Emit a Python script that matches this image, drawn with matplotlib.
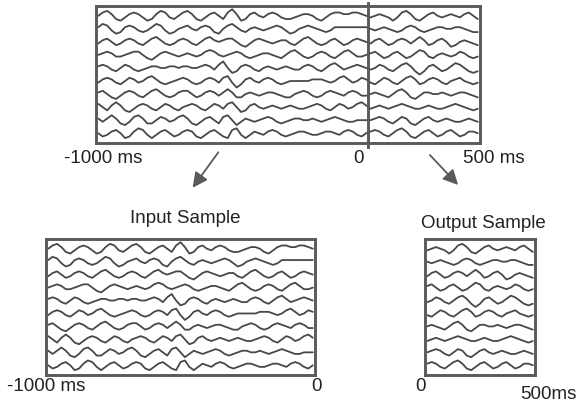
import matplotlib
matplotlib.use("Agg")
import matplotlib.pyplot as plt
import numpy as np

plt.rcParams["font.family"] = ["Liberation Sans", "DejaVu Sans"]

# EEG-like traces, split at stimulus onset (0 ms)
# pre: -1000 ms .. 0 (input sample), post: 0 .. 500 ms (output sample)
pre = [
    [0, 2, 3, 1, -2, -3, -1, 1, 2, 1, -1, -3, -2, 1, 3, 2, -1, -2, 0, 2,
     3, 1, -2, -3, -1, 1, 2, 0, -2, 2, 4, 1, -3, -2, 1, 2, 0, -1, 1, 2,
     1, -1, -2, -2, -1, 0, 1, 1, 0, -2, -3, -1, 1, 2, 2, 1, 1, 2, 2, 1, 0],
    [1, 3, 2, -1, -3, -2, 1, 2, 1, -1, -2, -1, 1, 3, 2, -1, -3, -2, 0, 1,
     2, 0, -1, 1, 2, 1, -2, -3, 0, 2, 3, 1, -1, -2, 0, 1, 0, -1, 0, 1,
     2, 1, -1, -3, -2, 0, 1, 2, 1, 0, -1, -2, -1, 1, 1, 1, 1, 1, 1, 1, 1],
    [-1, 1, 2, 0, -2, -1, 1, 2, 1, -1, -2, 0, 2, 3, 1, -1, -2, -1, 1, 2,
     1, -1, -2, 0, 2, 3, 1, 0, 1, 2, 2, 0, -2, -3, -1, 1, 2, 1, 0, -1,
     0, 1, 1, -1, -2, 0, 2, 3, 1, -1, -2, -1, 1, 2, 0, -2, -1, 1, 2, 1, 0],
    [0, 1, 2, 1, -1, -1, 0, 1, 2, 2, 0, -2, -3, -1, 1, 2, 1, 0, -1, 0,
     1, 0, -1, 0, 2, 3, 2, 0, -1, 0, 1, 2, 1, -1, -2, -1, 0, 1, 1, 0,
     -1, -2, 0, 2, 3, 1, -1, -2, -1, 1, 2, 1, -1, -2, 0, 2, 3, 1, -1, -1, 0],
    [1, 2, 1, -1, -2, 0, 2, 1, -1, -2, -1, 0, 1, 1, 0, 0, 1, 1, 0, 1,
     1, 0, 0, 1, 2, 1, -1, 2, 4, 0, -3, -2, 1, 2, 1, -1, -2, 0, 1, 0,
     -1, 0, 1, 0, -1, -1, 1, 2, 1, -1, -2, 0, 2, 3, 1, -1, 0, 1, 2, 1, 0],
    [-1, 1, 2, 1, -1, -2, 0, 2, 1, -1, 0, 2, 3, 1, -1, -2, -1, 0, 1, 2,
     1, -1, -2, -1, 1, 2, 1, -1, 2, 3, -1, -4, -2, 1, 2, 0, -1, 1, 2, 1,
     -1, -2, -1, 0, 0, 0, 0, 0, 1, 1, 1, 0, -1, 0, 2, 3, 1, -1, 0, 2, 1],
    [1, 2, 0, -2, -3, -1, 1, 2, 1, -1, -2, 0, 2, 3, 1, -1, -2, -1, 1, 2,
     2, 0, -2, -1, 1, 2, 1, -1, 1, 3, 1, -2, -2, 0, 1, 0, -1, 0, 1, 1,
     0, -1, -2, -2, 0, 1, 2, 1, -1, -2, -1, 1, 2, 1, 0, -1, 1, 2, 1, -1, -1],
    [2, 0, -2, 1, 3, 1, -2, -3, -1, 1, 2, 1, -1, -2, 0, 2, 1, -1, -2, 0,
     1, 2, 1, -1, -2, 0, 2, 1, -1, 2, 3, 0, -3, -2, 1, 2, 0, -1, 0, 1,
     0, -1, 0, 1, 0, -1, -1, 0, 1, 2, 1, -1, -2, 0, 2, 1, -1, 0, 2, 3, 1],
    [1, -1, 1, 3, 1, -2, -3, -1, 2, 3, 1, -2, -2, 0, 2, 1, -1, 0, 2, 3,
     1, -2, -3, -1, 1, 2, 0, -2, 2, 3, 0, -3, -1, 1, 0, -1, 0, 1, 2, 1,
     -1, -2, -1, 0, 1, 1, 0, 0, 1, 0, -1, 0, 1, 2, 1, 0, -1, -1, 0, 0, 0],
    [0, -2, -1, 1, 2, 0, -3, -2, 1, 3, 2, -1, -3, -1, 1, 2, 0, -2, -1, 1,
     2, 1, -2, -3, -1, 1, 2, 0, -2, -3, 2, 3, -1, -3, -1, 1, 0, -1, 1, 2,
     1, -1, -2, -1, 0, 1, 1, 0, -1, -1, 0, 1, 1, 0, -1, 1, 2, 1, -1, -2, 0],
]
post = [
    [-1, 0, 1, 0, -1, -3, -1, 2, 3, 1, -2, -3, -1, 1, 2, 0, -1, 0, 1, 0, -1, 1, 2, 0, -2],
    [0, -1, 0, 1, 0, -1, -2, -1, 1, 2, 1, -1, -2, -1, 0, 1, 1, 0, 0, 1, 1, 0, -1, -2, -2],
    [-1, 1, 2, 0, -2, -1, 1, 2, 1, -1, 1, 3, 1, -2, -1, 1, 2, 0, -3, -2, 0, 1, 0, -1, -2],
    [1, 2, 0, -2, -1, 1, 2, 0, -2, -1, 1, 3, 2, -1, -2, 0, 1, 0, -1, 0, 2, 1, -1, -2, -1],
    [-1, 0, 2, 1, -1, -2, 0, 2, 3, 1, -2, -4, -2, 1, 2, 0, -2, -1, 1, 3, 2, 0, -2, -3, -2],
    [-1, -2, 0, 2, 1, -1, -2, 0, 2, 3, 1, -2, -1, 1, 2, 1, -1, -2, 0, 1, 2, 0, -1, -2, -1],
    [0, 1, 0, -1, -2, 0, 2, 3, 1, -2, -3, -1, 1, 1, 0, 0, 1, 0, -1, 0, 1, 1, 0, -1, -2],
    [-1, 0, 1, 0, -1, 0, 1, 2, 1, 0, -1, -1, 0, 1, 0, -1, -1, 0, 1, 2, 1, 0, -1, -2, -1],
    [0, 1, 2, 1, -1, -2, 0, 2, 1, -2, -3, -1, 1, 2, 0, -1, 0, 1, 0, -1, -1, 0, 1, 0, -1],
    [1, 2, 1, -1, -2, 0, 2, 3, 1, -2, -3, -1, 1, 2, 0, -2, -1, 1, 2, 0, -2, -1, 1, 1, 0],
]

LINE = "#484848"
FRAME = "#5a5a5a"
TXT = "#222222"
SPACING = 8


def draw_traces(ax, traces):
    n = len(traces[0])
    x = np.arange(n)
    for k, tr in enumerate(traces):
        ax.plot(x, np.asarray(tr) - k * SPACING, color=LINE, lw=1.3,
                solid_joinstyle="round", solid_capstyle="round")
    ax.set_xlim(-0.5, n - 0.5)
    ax.set_ylim(-(len(traces) - 1) * SPACING - 6, 6)
    ax.set_xticks([])
    ax.set_yticks([])
    for s in ax.spines.values():
        s.set_color(FRAME)
        s.set_linewidth(2.1)


W, H = 576, 419
fig = plt.figure(figsize=(W / 100, H / 100), dpi=100)


def box(x0, y0, x1, y1):
    return fig.add_axes([x0 / W, 1 - y1 / H, (x1 - x0) / W, (y1 - y0) / H])


def label(x, y, s, size=13.5):
    fig.text(x / W, 1 - y / H, s, ha="center", va="center", fontsize=size, color=TXT)


# full epoch
ax_top = box(96, 6, 480, 143)
full = [a + b for a, b in zip(pre, post)]
draw_traces(ax_top, full)
ax_top.axvline(len(pre[0]) - 0.5, ymin=-0.03, ymax=1.02, color=FRAME, lw=2.1, clip_on=False)

# input / output samples
ax_in = box(46, 239, 315, 375)
draw_traces(ax_in, pre)
ax_out = box(425, 239, 535, 375)
draw_traces(ax_out, post)

label(103, 158, "-1000 ms")
label(358, 158, "0")
label(494, 158, "500 ms")
label(185, 218, "Input Sample")
label(483, 223, "Output Sample")
label(46, 386, "-1000 ms")
label(316, 386, "0")
label(421, 386, "0")
label(548, 394, "500ms")

for (xs, ys), (xe, ye) in [((220, 150), (191, 190)), ((428, 153), (460, 187))]:
    fig.add_artist(matplotlib.patches.FancyArrowPatch(
        (xs / W, 1 - ys / H), (xe / W, 1 - ye / H), transform=fig.transFigure,
        arrowstyle="-|>,head_length=9,head_width=4.5", color=FRAME, lw=1.3))

fig.savefig("out.png", dpi=100)
